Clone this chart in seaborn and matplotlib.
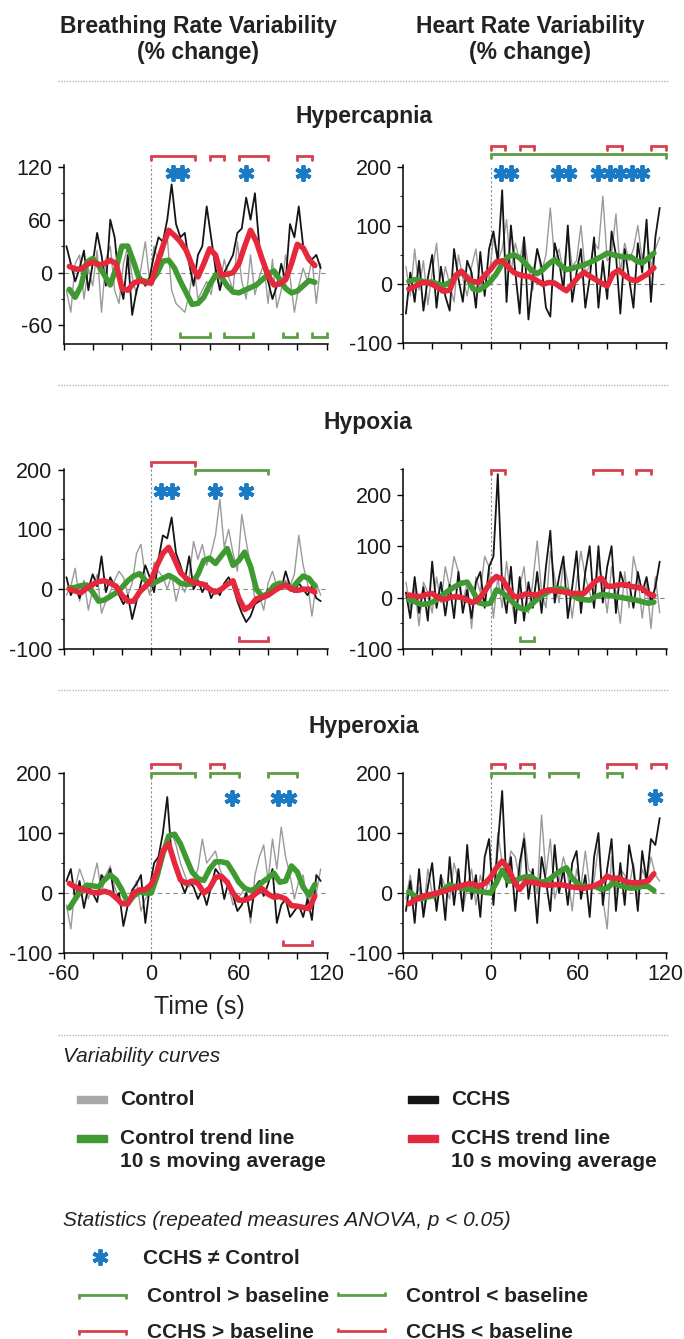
import matplotlib
matplotlib.use('Agg')
import matplotlib.pyplot as plt
from matplotlib.patches import Rectangle
from matplotlib.ticker import MultipleLocator
import seaborn as sns

# --- DATA ---
# time grids (s): raw variability curves and 10 s moving-average trend lines
t_raw = list(range(-58, 117, 3))      # 59 samples
t_trend = list(range(-56, 113, 4))    # 43 samples

# Hypercapnia - breathing rate variability
hc_brv_ctrl_raw = [-20, -45, 10, 20, -30, 5, -15, 25, -45, 15, 30, -20, -35, 10, 30, -5, -25, 5, 35, -10,
                   30, 10, 20, 40, -20, -35, -40, -45, -25, 10, -30, -20, -10, -25, 5, -15, 15, -5, -20, 35,
                   -10, -30, 20, -25, -5, 10, -35, 15, -40, -20, 20, -5, -45, -15, 5, -10, 15, -35, 10]
hc_brv_cchs_raw = [30, 10, -10, 5, 25, -20, 10, 45, 20, -15, 60, 40, -10, -30, 20, -48, -20, -5, -15, -5,
                   20, 40, 35, 60, 100, 55, 40, 45, 10, -15, 20, 30, 75, 40, 5, -20, 0, 10, 20, 45,
                   50, 85, 60, 90, 30, 5, -10, -30, -15, 10, -10, 55, 40, 75, 30, 20, 15, 20, 5]
hc_brv_ctrl_trend = [-19, -28, -15, 12, 16, 8, -3, -14, 5, 30, 30, 12, -8, -10, -10, -1, 13, 14, 5, -10,
                     -23, -36, -35, -28, -14, -3, -5, -15, -22, -23, -20, -17, -14, -8, -2, 2, -8, -18, -23, -21,
                     -15, -9, -11]
hc_brv_cchs_trend = [7, 4, 4, 9, 12, 9, 10, 14, 10, -18, -20, -12, -9, -11, -12, 10, 30, 48, 42, 35,
                     25, 8, -5, 10, 27, 20, -3, -2, 0, 10, 30, 48, 35, 15, -3, -14, -13, -8, 10, 32,
                     28, 15, 8]

# Hypercapnia - heart rate variability
hc_hrv_ctrl_raw = [30, -20, 60, -10, 40, -35, 20, 70, -15, 30, 0, -30, 50, 10, -20, 30, 60, -10, 20, 10,
                   80, 40, 60, 110, 20, 70, 40, 80, 30, -10, 60, 20, 50, 130, 40, 60, 20, 90, 30, 40,
                   100, 20, 30, 70, 60, 150, 40, 50, 120, 20, 70, 40, 60, 100, 40, 90, 30, 60, 80]
hc_hrv_cchs_raw = [-50, 20, -30, 40, -45, 10, 50, -40, 30, -20, -45, 60, 10, -30, 40, 20, -40, 55, -20, 60,
                   90, 40, 160, -30, 100, 20, -50, 80, -60, 10, 60, 30, -40, -55, 70, 40, -10, 100, -30, 20,
                   60, -40, 10, 80, -40, 40, -25, 90, 50, -50, 60, 10, -40, 70, 20, 110, -30, 80, 130]
hc_hrv_ctrl_trend = [5, 8, 6, 3, 4, 0, -2, 3, 12, 22, 12, -8, -10, -4, 5, 18, 35, 47, 50, 45,
                     35, 24, 18, 25, 35, 42, 32, 25, 27, 30, 33, 37, 42, 47, 53, 50, 48, 46, 47, 40,
                     36, 44, 53]
hc_hrv_cchs_trend = [-8, -4, 2, 3, 0, -6, -12, -10, 15, 22, 10, 5, 3, 15, 25, 38, 40, 30, 20, 16,
                     14, 12, 6, 0, 3, 2, -5, -11, 0, 12, 20, 14, 8, 2, -3, 18, 24, 15, 8, 6,
                     12, 18, 28]

# Hypoxia - breathing rate variability
hx_brv_ctrl_raw = [-10, 5, 35, -20, 15, -35, 0, 25, -40, -20, -5, 15, 30, 20, -10, 10, 60, 75, 20, -10,
                   45, 30, 20, 0, 25, -20, 10, -5, 20, 80, 50, 75, 40, 60, 90, 150, 70, 100, 60, 30,
                   125, 80, 40, -20, -10, -35, 10, 30, 5, 0, 15, 5, 25, 90, 40, 10, -45, 10, -10]
hx_brv_cchs_raw = [20, -10, 5, -15, 10, 0, 25, 5, 55, -5, 20, 5, -10, -25, -10, -50, -20, 10, 40, 20,
                   -5, 50, 90, 85, 120, 60, 40, 15, 55, 0, 15, -5, 10, -15, 0, -10, 10, 20, 5, -20,
                   -40, -55, -45, -25, -20, -15, 0, -5, 10, 0, 30, 5, -5, 10, 0, -10, 5, -15, -20]
hx_brv_ctrl_trend = [2, 3, 6, 7, -5, -20, -18, -12, -6, 3, 14, 22, 26, 15, 8, 13, 18, 23, 18, 10,
                     8, 9, 25, 48, 52, 43, 56, 68, 40, 48, 62, 38, 0, -12, -7, 6, 10, 7, 0, 12,
                     22, 18, 5]
hx_brv_cchs_trend = [0, -3, -6, 2, 8, 13, 14, 10, 5, -10, -20, -20, -5, 5, 15, 40, 60, 70, 50, 28,
                     18, 12, 10, 8, 0, -5, 0, 8, 14, -15, -34, -28, -16, -14, -10, -3, 3, 7, 0, -2,
                     0, 0, -5]

# Hypoxia - heart rate variability
hx_hrv_ctrl_raw = [30, -20, 20, -55, 30, 10, -30, 40, -10, 60, 20, 80, 50, -10, 30, -60, 40, 10, 80, 60,
                   -40, 40, -20, 70, 0, -50, 20, 60, -30, 30, 110, 10, -20, 90, 40, -10, 70, 30, -40, 30,
                   90, 40, 10, -20, 70, 30, -30, 60, 10, -50, 50, -20, 80, 40, -40, 30, -60, 40, -30]
hx_hrv_cchs_raw = [10, -40, 40, -30, 20, -45, 70, -20, 30, -35, 25, -40, 50, -30, 15, -40, 30, 50, -20, 60,
                   80, 240, 20, -30, 60, -50, 40, -45, 30, -20, 50, -30, 60, 130, -10, 40, 80, -40, 20, 90,
                   -30, 50, 100, -20, 100, -10, 60, 100, -30, 50, 20, 30, -20, 50, 10, 40, -10, 20, 70]
hx_hrv_ctrl_trend = [-4, -8, -13, -13, -9, -3, 7, 15, 22, 28, 30, 12, -10, -13, -11, 15, 10, 0, -11, -20,
                     -24, -14, -3, 5, 12, 18, 17, 15, 5, -2, -4, -5, 2, 6, 5, 3, 1, -1, -3, -5,
                     -8, -11, -9]
hx_hrv_cchs_trend = [5, 3, 2, 6, 8, 0, -4, 0, 2, 0, -5, -10, -3, 12, 30, 41, 36, 18, 2, 2,
                     7, 6, 5, 12, 15, 13, 12, 10, 8, 8, 8, 20, 32, 38, 22, 22, 25, 25, 22, 20,
                     18, 8, 4]

# Hyperoxia - breathing rate variability
ho_brv_ctrl_raw = [-20, -60, 10, 40, 20, -10, 20, 50, 0, 30, 45, 10, -10, -20, -10, 0, 20, -30, -10, 0,
                   30, 60, 70, 90, 100, 80, 50, 30, 10, 20, 40, 90, 50, 60, 70, 40, 20, 10, -20, -10,
                   0, 10, -50, 30, 60, 80, 20, 90, 40, 110, 60, 30, -10, 20, 30, -20, 10, 0, 40]
ho_brv_cchs_raw = [20, 40, -10, 20, -25, 10, 0, -15, 30, 20, 40, -10, 0, -55, -20, 5, 15, 30, -50, 10,
                   50, 60, 100, 160, 60, 40, 20, 0, 20, 10, -10, 5, -20, 10, 40, 30, -10, 20, -5, -30,
                   -20, 0, -40, 10, 20, -5, 15, 40, -50, -20, -10, -40, -30, -20, -40, -10, -45, 30, 20]
ho_brv_ctrl_trend = [-25, -10, 5, 13, 12, 10, 22, 30, 22, 5, -17, -5, 2, 0, 0, 28, 65, 95, 98, 82,
                     58, 35, 24, 21, 40, 52, 52, 50, 35, 18, 8, 4, 8, 18, 25, 33, 18, 20, 45, 35,
                     10, -4, 14]
ho_brv_cchs_trend = [16, 10, 6, 4, 1, 0, 3, 0, -8, -18, -18, 0, 5, 6, 14, 35, 70, 82, 50, 22,
                     16, 20, 16, 0, 8, 26, 28, 18, 0, -12, -12, -8, 0, 7, -2, -7, -6, -10, -21, -22,
                     -24, -26, -5]

# Hyperoxia - heart rate variability
ho_hrv_ctrl_raw = [-10, 30, -20, 10, -35, 40, 0, -20, 30, 10, -10, 50, 20, -30, 10, 40, -20, 30, 0, 20,
                   -10, 100, 50, 30, 70, 60, 20, 100, 40, 30, 0, 130, 30, 90, -10, 20, 60, 30, -30, 40,
                   10, 70, 10, 20, 80, -10, -60, 60, 0, 40, 30, 10, 50, -10, 40, 20, 60, 30, 20]
ho_hrv_cchs_raw = [-30, 20, -50, 40, -40, 10, 50, -30, 30, -45, 60, -20, 40, -30, 80, -10, 30, -40, 60, 90,
                   -20, 80, 170, 10, 60, -30, 50, 90, -10, 40, -50, 60, 20, -30, 80, 0, 40, -20, 50, 70,
                   -10, 30, -40, 60, 100, -20, 40, 90, -30, 50, -20, 80, 40, -30, 70, 20, 90, 80, 125]
ho_hrv_ctrl_trend = [2, -5, -10, -7, -5, 0, 6, 14, 10, 8, 6, 5, 3, 1, 0, 17, 38, 20, 20, 24,
                     27, 27, 20, 18, 22, 30, 37, 42, 25, 15, 11, 10, 11, 6, 8, 17, 13, 10, 8, 9,
                     11, 11, 4]
ho_hrv_cchs_trend = [-18, -12, -7, -4, -2, 0, 3, 6, 9, 12, 15, 15, 11, 16, 26, 42, 53, 42, 20, 6,
                     19, 18, 16, 14, 13, 14, 14, 12, 10, 9, 8, 10, 13, 18, 28, 24, 25, 20, 17, 17,
                     18, 20, 32]

# Statistics: time of CCHS != Control stars and significant 10 s bins vs baseline
hc_brv_stars = [15, 21, 65, 104]
hc_brv_cchs_up = [(0, 30), (40, 50), (60, 80), (100, 110)]
hc_brv_ctrl_down = [(20, 40), (50, 70), (90, 100), (110, 120)]

hc_hrv_stars = [7, 14, 46, 54, 74, 82, 89, 97, 104]
hc_hrv_cchs_up = [(0, 10), (20, 30), (80, 90), (110, 120)]
hc_hrv_ctrl_up = [(0, 120)]

hx_brv_stars = [7, 14, 44, 65]
hx_brv_cchs_up = [(0, 30)]
hx_brv_ctrl_up = [(30, 80)]
hx_brv_cchs_down = [(60, 80)]

hx_hrv_cchs_up = [(0, 10), (70, 90), (100, 110)]
hx_hrv_ctrl_down = [(20, 30)]

ho_brv_stars = [55, 87, 94]
ho_brv_cchs_up = [(0, 20), (40, 50)]
ho_brv_ctrl_up = [(0, 30), (40, 60), (80, 100)]
ho_brv_cchs_down = [(90, 110)]

ho_hrv_stars = [113]
ho_hrv_cchs_up = [(0, 10), (20, 30), (80, 100), (110, 120)]
ho_hrv_ctrl_up = [(0, 30), (40, 60), (80, 90)]

# --- STYLE ---
W, H = 684, 1339
GRAY = '#9a9a9a'
BLACK = '#151515'
GREEN = '#3f9a32'
RED = '#e6283c'
BLUE = '#1a7ac4'
BR_GREEN = '#5c9e45'
BR_RED = '#d8404e'
STAR = dict(ls='none', marker=(6, 2, 0), ms=11.5, mew=2.8, color=BLUE)

sns.set_style('ticks')
plt.rcParams['font.family'] = ['Liberation Sans', 'DejaVu Sans']
plt.rcParams['axes.unicode_minus'] = False

fig = plt.figure(figsize=(W / 100, H / 100), dpi=100)

# page overlay in pixel units for headings, separators and legend
over = fig.add_axes([0, 0, 1, 1])
over.set_xlim(0, W)
over.set_ylim(H, 0)
over.axis('off')


def add_panel(box, ylim, yticks, ystep, xlabels):
    left, top, right, bottom = box
    ax = fig.add_axes([left / W, 1 - bottom / H, (right - left) / W, (bottom - top) / H])
    ax.patch.set_alpha(0)
    ax.set_xlim(-60, 121)
    ax.set_ylim(*ylim)
    ax.set_xticks(range(-60, 121, 20))
    ax.set_xticklabels([str(v) if v % 60 == 0 and xlabels else '' for v in range(-60, 121, 20)])
    ax.set_yticks(yticks)
    ax.yaxis.set_minor_locator(MultipleLocator(ystep))
    ax.tick_params(axis='both', which='major', length=4, width=1, labelsize=15.5, color='black',
                   labelcolor='#1a1a1a')
    ax.tick_params(axis='y', which='minor', length=2.5, width=0.8)
    ax.tick_params(axis='y', pad=4)
    ax.tick_params(axis='x', pad=4)
    sns.despine(ax=ax)
    for s in ['left', 'bottom']:
        ax.spines[s].set_linewidth(1.1)
        ax.spines[s].set_color('black')
    ax.axhline(0, color='#8a8a8a', lw=0.8, ls=(0, (4, 3)), zorder=1)
    ax.axvline(0, color='#8a8a8a', lw=0.8, ls=(0, (2, 2)), zorder=1)
    return ax


def draw_curves(ax, ctrl_raw, cchs_raw, ctrl_trend, cchs_trend):
    sns.lineplot(x=t_raw, y=ctrl_raw, ax=ax, color=GRAY, linewidth=1.0, zorder=2)
    sns.lineplot(x=t_raw, y=cchs_raw, ax=ax, color=BLACK, linewidth=1.3, zorder=3)
    sns.lineplot(x=t_trend, y=ctrl_trend, ax=ax, color=GREEN, linewidth=4, zorder=4)
    sns.lineplot(x=t_trend, y=cchs_trend, ax=ax, color=RED, linewidth=4, zorder=5)


def bracket(ax, spans, y, color, above):
    # above=True: "> baseline" bracket (ends tick down); False: "< baseline" (ends tick up)
    tr = ax.get_xaxis_transform()
    d = -0.022 if above else 0.022
    for a, b in spans:
        ax.plot([a, a, b, b], [y + d, y, y, y + d], transform=tr, color=color,
                lw=2, clip_on=False, solid_joinstyle='miter', zorder=6)


def stars(ax, times, y):
    ax.plot(times, [y] * len(times), transform=ax.get_xaxis_transform(),
            clip_on=False, zorder=7, **STAR)


LEFT = (63.5, 328)
RIGHT = (403, 667)

# Hypercapnia
ax = add_panel((LEFT[0], 165, LEFT[1], 344), (-81, 122), [-60, 0, 60, 120], 30, False)
draw_curves(ax, hc_brv_ctrl_raw, hc_brv_cchs_raw, hc_brv_ctrl_trend, hc_brv_cchs_trend)
bracket(ax, hc_brv_cchs_up, 1.05, BR_RED, True)
bracket(ax, hc_brv_ctrl_down, 0.04, BR_GREEN, False)
stars(ax, hc_brv_stars, 0.955)

ax = add_panel((RIGHT[0], 165, RIGHT[1], 343), (-100, 203), [-100, 0, 100, 200], 50, False)
draw_curves(ax, hc_hrv_ctrl_raw, hc_hrv_cchs_raw, hc_hrv_ctrl_trend, hc_hrv_cchs_trend)
bracket(ax, hc_hrv_cchs_up, 1.107, BR_RED, True)
bracket(ax, hc_hrv_ctrl_up, 1.06, BR_GREEN, True)
stars(ax, hc_hrv_stars, 0.955)

# Hypoxia
ax = add_panel((LEFT[0], 469, LEFT[1], 649), (-100, 201), [-100, 0, 100, 200], 50, False)
draw_curves(ax, hx_brv_ctrl_raw, hx_brv_cchs_raw, hx_brv_ctrl_trend, hx_brv_cchs_trend)
bracket(ax, hx_brv_cchs_up, 1.04, BR_RED, True)
bracket(ax, hx_brv_ctrl_up, 0.995, BR_GREEN, True)
bracket(ax, hx_brv_cchs_down, 0.045, BR_RED, False)
stars(ax, hx_brv_stars, 0.88)

ax = add_panel((RIGHT[0], 469, RIGHT[1], 649), (-100, 250), [-100, 0, 100, 200], 50, False)
draw_curves(ax, hx_hrv_ctrl_raw, hx_hrv_cchs_raw, hx_hrv_ctrl_trend, hx_hrv_cchs_trend)
bracket(ax, hx_hrv_cchs_up, 0.995, BR_RED, True)
bracket(ax, hx_hrv_ctrl_down, 0.045, BR_GREEN, False)

# Hyperoxia
ax = add_panel((LEFT[0], 773, LEFT[1], 953), (-100, 200), [-100, 0, 100, 200], 50, True)
draw_curves(ax, ho_brv_ctrl_raw, ho_brv_cchs_raw, ho_brv_ctrl_trend, ho_brv_cchs_trend)
bracket(ax, ho_brv_cchs_up, 1.05, BR_RED, True)
bracket(ax, ho_brv_ctrl_up, 1.0, BR_GREEN, True)
bracket(ax, ho_brv_cchs_down, 0.045, BR_RED, False)
stars(ax, ho_brv_stars, 0.86)

ax = add_panel((RIGHT[0], 773, RIGHT[1], 953), (-100, 200), [-100, 0, 100, 200], 50, True)
draw_curves(ax, ho_hrv_ctrl_raw, ho_hrv_cchs_raw, ho_hrv_ctrl_trend, ho_hrv_cchs_trend)
bracket(ax, ho_hrv_cchs_up, 1.05, BR_RED, True)
bracket(ax, ho_hrv_ctrl_up, 1.0, BR_GREEN, True)
stars(ax, ho_hrv_stars, 0.865)

# --- headings and separators ---
TXT = '#222222'
over.text(198, 27, 'Breathing Rate Variability', ha='center', va='center', fontsize=16.5, fontweight='bold', color=TXT)
over.text(198, 53, '(% change)', ha='center', va='center', fontsize=16.5, fontweight='bold', color=TXT)
over.text(530, 27, 'Heart Rate Variability', ha='center', va='center', fontsize=16.5, fontweight='bold', color=TXT)
over.text(530, 53, '(% change)', ha='center', va='center', fontsize=16.5, fontweight='bold', color=TXT)
for y in [81, 385, 690, 1035]:
    over.plot([58, 669], [y, y], color='#b5b5b5', lw=1.0, ls=(0, (1, 1)))
over.text(364, 116, 'Hypercapnia', ha='center', va='center', fontsize=16.5, fontweight='bold', color=TXT)
over.text(368, 423, 'Hypoxia', ha='center', va='center', fontsize=16.5, fontweight='bold', color=TXT)
over.text(364, 727, 'Hyperoxia', ha='center', va='center', fontsize=16.5, fontweight='bold', color=TXT)
over.text(199, 1007, 'Time (s)', ha='center', va='center', fontsize=18, color=TXT)

# --- legend ---
over.text(63, 1057, 'Variability curves', ha='left', va='center', fontsize=15, style='italic', color=TXT)
legend_rows = [
    (77, 1099, '#a8a8a8', 'Control'),
    (408, 1099, BLACK, 'CCHS'),
    (77, 1138, GREEN, 'Control trend line\n10 s moving average'),
    (408, 1138, RED, 'CCHS trend line\n10 s moving average'),
]
for x, y, c, label in legend_rows:
    over.add_patch(Rectangle((x, y - 3.5), 30, 7, color=c))
    over.text(x + 43, y - 9, label, ha='left', va='top', fontsize=15, fontweight='bold',
              color=TXT, linespacing=1.25)

over.text(63, 1220, 'Statistics (repeated measures ANOVA, p < 0.05)', ha='left', va='center',
          fontsize=15, style='italic', color=TXT)
over.plot([100], [1257], **STAR)
over.text(143, 1259, 'CCHS \u2260 Control', ha='left', va='center', fontsize=15, fontweight='bold', color=TXT)

stat_rows = [
    (79, 1295, BR_GREEN, True, 'Control > baseline'),
    (338, 1295, BR_GREEN, False, 'Control < baseline'),
    (79, 1331, BR_RED, True, 'CCHS > baseline'),
    (338, 1331, BR_RED, False, 'CCHS < baseline'),
]
for x, y, c, above, label in stat_rows:
    d = 2.5 if above else -2.5
    over.plot([x, x, x + 47, x + 47], [y + d, y, y, y + d], color=c, lw=2, solid_joinstyle='miter')
    over.text(x + 68, y + 1, label, ha='left', va='center', fontsize=15, fontweight='bold', color=TXT)

fig.savefig('out.png', dpi=100)
